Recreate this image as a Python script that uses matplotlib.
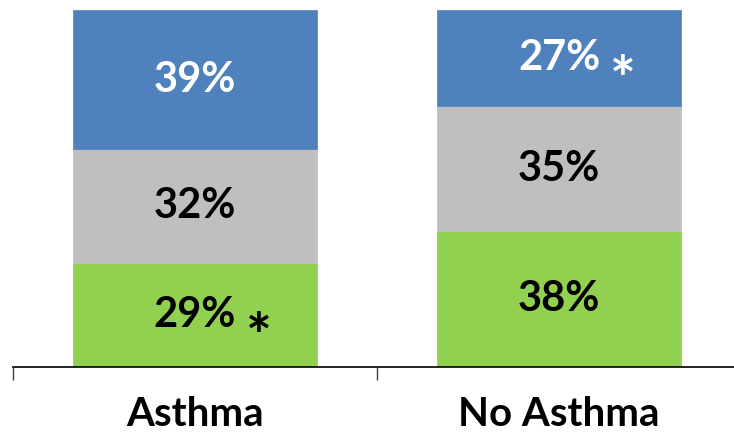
import numpy as np
import matplotlib.pyplot as plt

# data
groups = ['Asthma', 'No Asthma']
green_vals = [29, 38]
gray_vals = [32, 35]
blue_vals = [39, 27]
starred = [(0, 'green'), (1, 'blue')]

colors = {'green': '#92D050', 'gray': '#BFBFBF', 'blue': '#4F81BD'}
txt_colors = {'green': 'black', 'gray': 'black', 'blue': 'white'}

plt.rcParams['font.family'] = ['Lato', 'DejaVu Sans']

fig = plt.figure(figsize=(7.34, 4.33), dpi=100)
ax = fig.add_axes([13 / 734, 66 / 433, 728 / 734, 357 / 433])

x = np.arange(len(groups))
width = 0.673
bottom = np.zeros(len(groups))
segs = {}
for name, vals in [('green', green_vals), ('gray', gray_vals), ('blue', blue_vals)]:
    vals = np.array(vals, dtype=float)
    ax.bar(x, vals, width, bottom=bottom, color=colors[name], edgecolor=colors[name], linewidth=0.5)
    segs[name] = (bottom.copy(), vals)
    for i in range(len(groups)):
        ax.text(x[i], bottom[i] + vals[i] / 2, '%d%%' % vals[i], ha='center', va='center',
                fontsize=30, fontweight='bold', color=txt_colors[name])
    bottom += vals

# asterisks for significant differences
for i, name in starred:
    b, v = segs[name]
    ax.text(x[i] + 0.175, b[i] + v[i] / 2 - 7, '*', ha='center', va='center',
            fontsize=44, fontweight='bold', color=txt_colors[name])

ax.set_xlim(-0.5, 1.5)
ax.set_ylim(0, 100)
for s in ['left', 'right', 'top']:
    ax.spines[s].set_visible(False)
ax.spines['bottom'].set_linewidth(1.2)
ax.set_yticks([])
ax.set_xticks(x)
ax.set_xticklabels(groups, fontsize=29, fontweight='bold')
ax.tick_params(axis='x', which='major', length=0, pad=21)
ax.set_xticks([-0.5, 0.5, 1.5], minor=True)
ax.tick_params(axis='x', which='minor', length=9, width=1, color='#404040', direction='out')

fig.savefig('out.png', dpi=100)
